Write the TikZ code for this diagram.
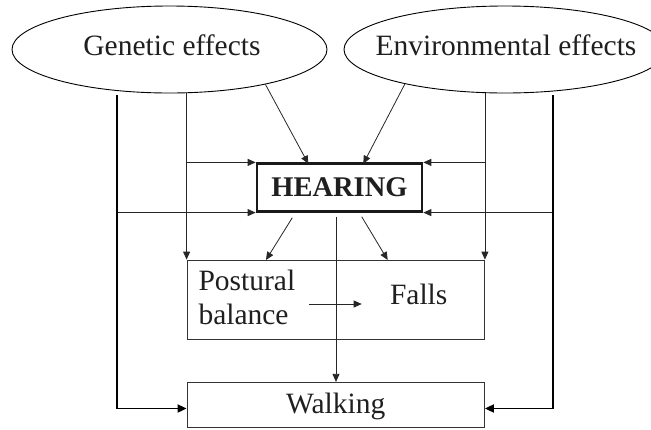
\documentclass[tikz,border=0pt]{standalone}
\usepackage{fontspec}
\setmainfont{Liberation Serif}
\usetikzlibrary{arrows.meta,shapes.geometric}
\begin{document}
\begin{tikzpicture}[x=1pt,y=-1pt,
  every node/.style={font=\fontsize{29.5}{33.3}\selectfont, text=black!88},
  conn/.style={draw=black!85, line width=0.8pt},
  arr/.style={conn, -{Triangle[length=8pt,width=7pt]}},
  heavy/.style={draw=black, line width=1.8pt, -{Triangle[length=9pt,width=8pt]}},
  cause/.style={ellipse, draw=black, line width=0.9pt, minimum height=87pt,
    inner sep=0pt, text height=20pt, text depth=9pt},
  box/.style={rectangle, draw=black!80, line width=0.8pt, inner sep=0pt,
    minimum width=297.5pt},
]
\useasboundingbox (0,0) rectangle (651,429);

% causes (the text is boxed at zero width so the ellipse keeps its set size)
\node[cause, minimum width=315pt] (G) at (169.5,49.5)
  {\makebox[0pt]{\kern5pt Genetic effects}};
\node[cause, minimum width=322pt] (E) at (505,49.5)
  {\makebox[0pt]{\kern2pt Environmental effects}};

% central factor and outcomes
\node[rectangle, draw=black!90, line width=2.7pt, minimum width=165pt,
  minimum height=47.5pt, inner sep=0pt,
  font=\fontsize{28.5}{33.3}\selectfont\bfseries] (H) at (339.5,187.5) {HEARING};
\node[box, minimum height=79pt] (PF) at (335.75,299.5) {};
\node[box, minimum height=45.4pt, text height=21pt, text depth=5pt] (W)
  at (335.75,405) {Walking};
\node[anchor=base west, inner sep=0pt] (post) at (198.3,290.7) {Postural};
\node[anchor=base west, inner sep=0pt] (bal) at (198.3,324) {balance};
\node[anchor=base, inner sep=0pt] (falls) at (418.7,304) {Falls};

% connector end points
\coordinate (gl) at (116.7,95);
\coordinate (er) at (553.3,95);
\coordinate (gw) at (116.7,408.5);
\coordinate (ew) at (553.3,408.5);
\coordinate (hg) at (308.3,163.75);
\coordinate (he) at (363.3,163.75);
\coordinate (ol) at (292.3,217.7);
\coordinate (il) at (266,260);
\coordinate (or) at (361.7,216.7);
\coordinate (ir) at (387.7,260);
\coordinate (oc) at (336,216.7);
\coordinate (ba) at (309.3,304);
\coordinate (fa) at (361.7,304);

% causes -> hearing
\draw[arr] (G.-20.3) -- (hg);
\draw[arr] (E.199) -- (he);
\draw[arr] (G.south -| PF.west) -- (PF.north west);
\draw[arr] (E.south -| PF.east) -- (PF.north east);
\draw[arr] (PF.west |- H.north west) -- (H.north west);
\draw[arr] (PF.east |- H.north east) -- (H.north east);
\draw[arr] (gl |- H.south west) -- (H.south west);
\draw[arr] (er |- H.south east) -- (H.south east);

% causes -> walking
\draw[heavy] (gl) -- (gw) -- (gw -| W.west);
\draw[heavy] (er) -- (ew) -- (ew -| W.east);

% hearing -> outcomes
\draw[arr] (ol) -- (il);
\draw[arr] (or) -- (ir);
\draw[arr] (oc) -- (oc |- W.north);
\draw[arr] (ba) -- (fa);
\end{tikzpicture}
\end{document}
